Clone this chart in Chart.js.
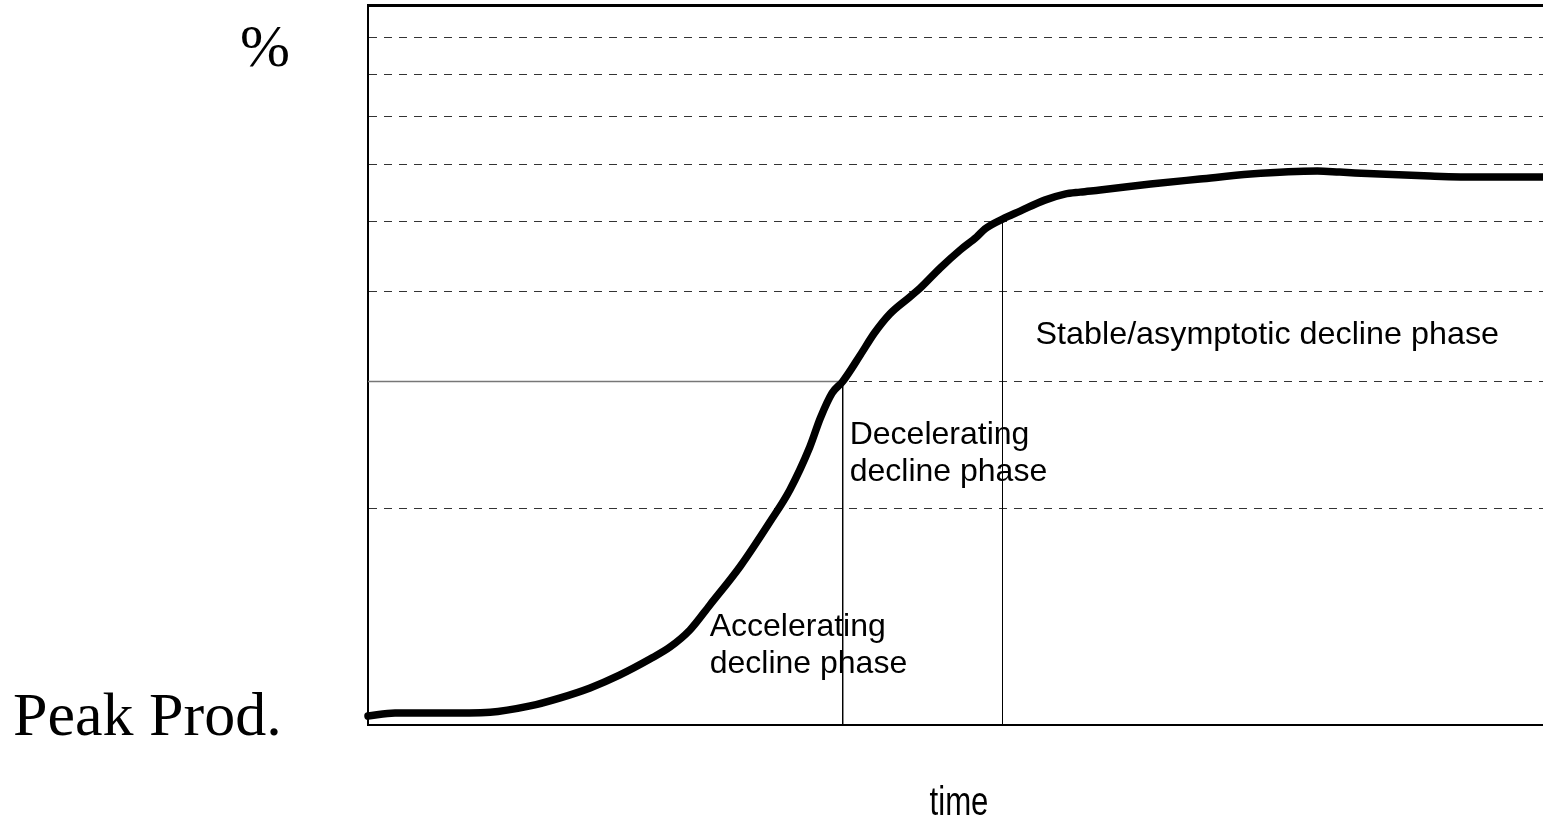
<!DOCTYPE html>
<html>
<head>
<meta charset="utf-8">
<script src="https://cdn.jsdelivr.net/npm/chart.js@4/dist/chart.umd.min.js"></script>
<style>
  html, body { margin: 0; padding: 0; background: #fff; overflow: hidden; }
  #c { display: block; }
</style>
</head>
<body>
<canvas id="c" width="1543" height="823"></canvas>
<script>
// ---- data (time in arbitrary units 0..100, production relative to peak on a log scale 1..10) ----
const timeValues = [0, 2.3, 6.1, 10.4, 13.8, 16.3, 18.9, 21.4, 24.0, 25.7, 27.4, 29.1, 31.7, 34.2, 35.9, 37.6, 38.5, 39.5, 40.4, 41.9, 43.1, 44.4, 46.1, 47.0, 48.7, 50.4, 51.8, 52.5, 54.0, 55.5, 57.6, 59.3, 60.6, 62.3, 66.6, 70.8, 75.1, 80.8, 82.7, 86.1, 90.4, 94.6, 100];
const curveValues = [1.029, 1.039, 1.039, 1.042, 1.063, 1.090, 1.126, 1.173, 1.235, 1.283, 1.355, 1.468, 1.663, 1.914, 2.121, 2.433, 2.669, 2.891, 3.0, 3.265, 3.503, 3.722, 3.930, 4.045, 4.313, 4.568, 4.762, 4.885, 5.043, 5.173, 5.358, 5.462, 5.497, 5.533, 5.640, 5.731, 5.823, 5.880, 5.860, 5.823, 5.787, 5.768, 5.768];
const gridTicks = [2, 3, 4, 5, 6, 7, 8, 9];
const phaseBoundaryTimes = [40.4, 54.0];
const phaseBoundaryLevels = [3, 5];
const phaseLabels = [["Accelerating", "decline phase"], ["Decelerating", "decline phase"], ["Stable/asymptotic decline phase"]];
const axisLabels = { y: "%", base: "Peak Prod.", x: "time" };

const curve = timeValues.map((t, i) => ({ x: t, y: curveValues[i] }));

const textPlugin = {
  id: 'texts',
  afterDraw(chart) {
    const { ctx } = chart;
    const xs = chart.scales.x;
    function txt(s, x, y, font, sx, align) {
      ctx.save();
      ctx.font = font;
      ctx.fillStyle = '#000';
      ctx.textBaseline = 'alphabetic';
      ctx.textAlign = align || 'left';
      ctx.translate(x, y);
      ctx.scale(sx, 1);
      ctx.fillText(s, 0, 0);
      ctx.restore();
    }
    const sans = '32px "Liberation Sans", Arial, sans-serif';
    const serif = '"Liberation Serif", "Times New Roman", serif';
    const a = xs.getPixelForValue(phaseBoundaryTimes[0]);
    const b = xs.getPixelForValue(phaseBoundaryTimes[1]);
    txt(phaseLabels[0][0], a - 133, 636, sans, 1.0);
    txt(phaseLabels[0][1], a - 133, 673, sans, 1.0);
    txt(phaseLabels[1][0], a + 7, 444, sans, 1.0);
    txt(phaseLabels[1][1], a + 7, 481, sans, 1.0);
    txt(phaseLabels[2][0], b + 33, 344, sans, 1.01);
    txt(axisLabels.y, 240, 66, '60px ' + serif, 1.0);
    txt(axisLabels.base, 13, 735, '62px ' + serif, 1.0);
    txt(axisLabels.x, 959, 815, '40px "Liberation Sans", Arial, sans-serif', 0.78, 'center');
  }
};

new Chart(document.getElementById('c'), {
  type: 'line',
  data: {
    datasets: [
      {
        data: curve,
        borderColor: '#000',
        borderWidth: 7.5,
        borderCapStyle: 'round',
        borderJoinStyle: 'round',
        pointRadius: 0,
        tension: 0.4,
        cubicInterpolationMode: 'monotone',
        fill: false,
        clip: false
      },
      {
        data: [{ x: 0, y: phaseBoundaryLevels[0] }, { x: phaseBoundaryTimes[0], y: phaseBoundaryLevels[0] }],
        borderColor: '#777',
        borderWidth: 1.5,
        pointRadius: 0,
        fill: false
      },
      {
        data: [{ x: phaseBoundaryTimes[0], y: phaseBoundaryLevels[0] }, { x: phaseBoundaryTimes[0], y: 1 }],
        borderColor: '#000',
        borderWidth: 1,
        pointRadius: 0,
        fill: false
      },
      {
        data: [{ x: phaseBoundaryTimes[1], y: phaseBoundaryLevels[1] }, { x: phaseBoundaryTimes[1], y: 1 }],
        borderColor: '#000',
        borderWidth: 1,
        pointRadius: 0,
        fill: false
      }
    ]
  },
  options: {
    responsive: false,
    devicePixelRatio: 1,
    animation: false,
    layout: { padding: { left: 368, top: 5, right: 0, bottom: 98 } },
    plugins: { legend: { display: false }, tooltip: { enabled: false } },
    scales: {
      x: {
        type: 'linear', min: 0, max: 100, position: 'bottom',
        ticks: { display: false },
        grid: { display: false, drawTicks: false },
        border: { display: true, color: '#000', width: 2 }
      },
      x2: {
        type: 'linear', min: 0, max: 100, position: 'top',
        ticks: { display: false },
        grid: { display: false, drawTicks: false },
        border: { display: true, color: '#000', width: 3 }
      },
      y: {
        type: 'logarithmic', min: 1, max: 10,
        ticks: { display: false },
        afterBuildTicks: (scale) => { scale.ticks = gridTicks.map(v => ({ value: v })); },
        grid: { display: true, drawTicks: false, color: '#333', lineWidth: 1 },
        border: { display: true, color: '#000', width: 2, dash: [8, 7] }
      }
    }
  },
  plugins: [textPlugin]
});
</script>
</body>
</html>
